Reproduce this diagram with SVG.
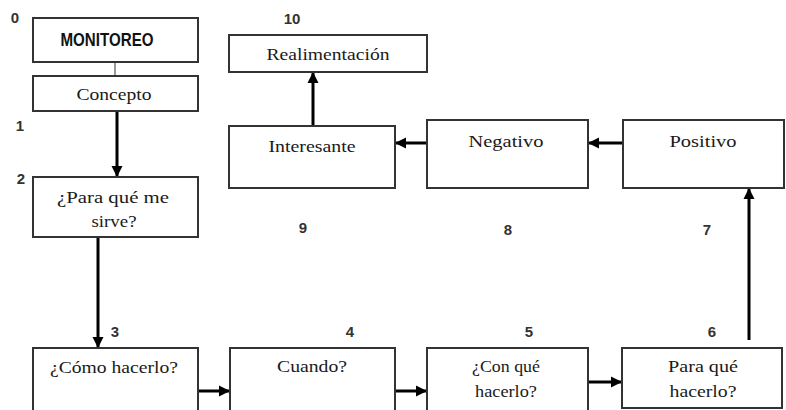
<svg xmlns="http://www.w3.org/2000/svg" width="786" height="410" viewBox="0 0 786 410">
  <style>
    .box { fill: #ffffff; stroke: #333333; stroke-width: 2; }
    .t { font-family: "Liberation Serif", "Times New Roman", serif; font-size: 17px; fill: #1a1a1a; text-anchor: middle; }
    .title { font-family: "Liberation Sans", Arial, sans-serif; font-size: 19px; font-weight: bold; fill: #111111; text-anchor: middle; }
    .num { font-family: "Liberation Sans", Arial, sans-serif; font-size: 15px; font-weight: bold; fill: #333333; text-anchor: middle; }
    .arrow { stroke: #000000; stroke-width: 3; fill: none; marker-end: url(#ah); }
    .thin { stroke: #333333; stroke-width: 1; fill: none; }
  </style>
  <defs>
    <marker id="ah" markerUnits="userSpaceOnUse" markerWidth="12" markerHeight="12" viewBox="0 0 12 12" refX="11" refY="6" orient="auto">
      <path d="M0,0.5 L11,6 L0,11.5 Z" fill="#000000"/>
    </marker>
  </defs>
  <rect width="786" height="410" fill="#ffffff"/>

  <g id="connectors">
    <line class="thin" x1="115" y1="62" x2="115" y2="76"/>
    <line class="arrow" x1="117" y1="111" x2="117" y2="177"/>
    <line class="arrow" x1="98" y1="237" x2="98" y2="348"/>
    <line class="arrow" x1="198" y1="391" x2="230" y2="391"/>
    <line class="arrow" x1="395" y1="391" x2="427" y2="391"/>
    <line class="arrow" x1="588" y1="382" x2="622" y2="382"/>
    <line class="arrow" x1="749" y1="340" x2="749" y2="188"/>
    <line class="arrow" x1="623" y1="143" x2="588" y2="143"/>
    <line class="arrow" x1="427" y1="143" x2="395" y2="143"/>
    <line class="arrow" x1="313" y1="126" x2="313" y2="72"/>
  </g>

  <g id="monitoreo">
    <rect class="box" x="33" y="18" width="165" height="44"/>
    <text class="title" x="107" y="45.5" textLength="93" lengthAdjust="spacingAndGlyphs">MONITOREO</text>
  </g>
  <g id="concepto">
    <rect class="box" x="33" y="76" width="165" height="35"/>
    <text class="t" x="114" y="100" textLength="75" lengthAdjust="spacingAndGlyphs">Concepto</text>
  </g>
  <g id="para-que-me-sirve">
    <rect class="box" x="33" y="177" width="165" height="60"/>
    <text class="t" x="113" y="203" textLength="112" lengthAdjust="spacingAndGlyphs">¿Para qué me</text>
    <text class="t" x="114" y="227" textLength="45" lengthAdjust="spacingAndGlyphs">sirve?</text>
  </g>
  <g id="como-hacerlo">
    <rect class="box" x="33" y="348" width="165" height="70"/>
    <text class="t" x="114" y="373" textLength="128" lengthAdjust="spacingAndGlyphs">¿Cómo hacerlo?</text>
  </g>
  <g id="cuando">
    <rect class="box" x="230" y="348" width="165" height="70"/>
    <text class="t" x="312" y="372" textLength="70" lengthAdjust="spacingAndGlyphs">Cuando?</text>
  </g>
  <g id="con-que-hacerlo">
    <rect class="box" x="427" y="348" width="161" height="70"/>
    <text class="t" x="506" y="372" textLength="68" lengthAdjust="spacingAndGlyphs">¿Con qué</text>
    <text class="t" x="506" y="397" textLength="62" lengthAdjust="spacingAndGlyphs">hacerlo?</text>
  </g>
  <g id="para-que-hacerlo">
    <rect class="box" x="622" y="348" width="160" height="60"/>
    <text class="t" x="703" y="372" textLength="70" lengthAdjust="spacingAndGlyphs">Para qué</text>
    <text class="t" x="703" y="397" textLength="67" lengthAdjust="spacingAndGlyphs">hacerlo?</text>
  </g>
  <g id="positivo">
    <rect class="box" x="623" y="120" width="161" height="68"/>
    <text class="t" x="703" y="147" textLength="67" lengthAdjust="spacingAndGlyphs">Positivo</text>
  </g>
  <g id="negativo">
    <rect class="box" x="427" y="120" width="161" height="68"/>
    <text class="t" x="506" y="147" textLength="75" lengthAdjust="spacingAndGlyphs">Negativo</text>
  </g>
  <g id="interesante">
    <rect class="box" x="229" y="126" width="166" height="62"/>
    <text class="t" x="312" y="152" textLength="87" lengthAdjust="spacingAndGlyphs">Interesante</text>
  </g>
  <g id="realimentacion">
    <rect class="box" x="229" y="35" width="198" height="37"/>
    <text class="t" x="328" y="60" textLength="123" lengthAdjust="spacingAndGlyphs">Realimentación</text>
  </g>

  <g id="numbers">
    <text class="num" x="15" y="23">0</text>
    <text class="num" x="20" y="131">1</text>
    <text class="num" x="21" y="184">2</text>
    <text class="num" x="115" y="337">3</text>
    <text class="num" x="350" y="337">4</text>
    <text class="num" x="529" y="337">5</text>
    <text class="num" x="712" y="337">6</text>
    <text class="num" x="707" y="235">7</text>
    <text class="num" x="508" y="235">8</text>
    <text class="num" x="303" y="233">9</text>
    <text class="num" x="292" y="24">10</text>
  </g>
</svg>
